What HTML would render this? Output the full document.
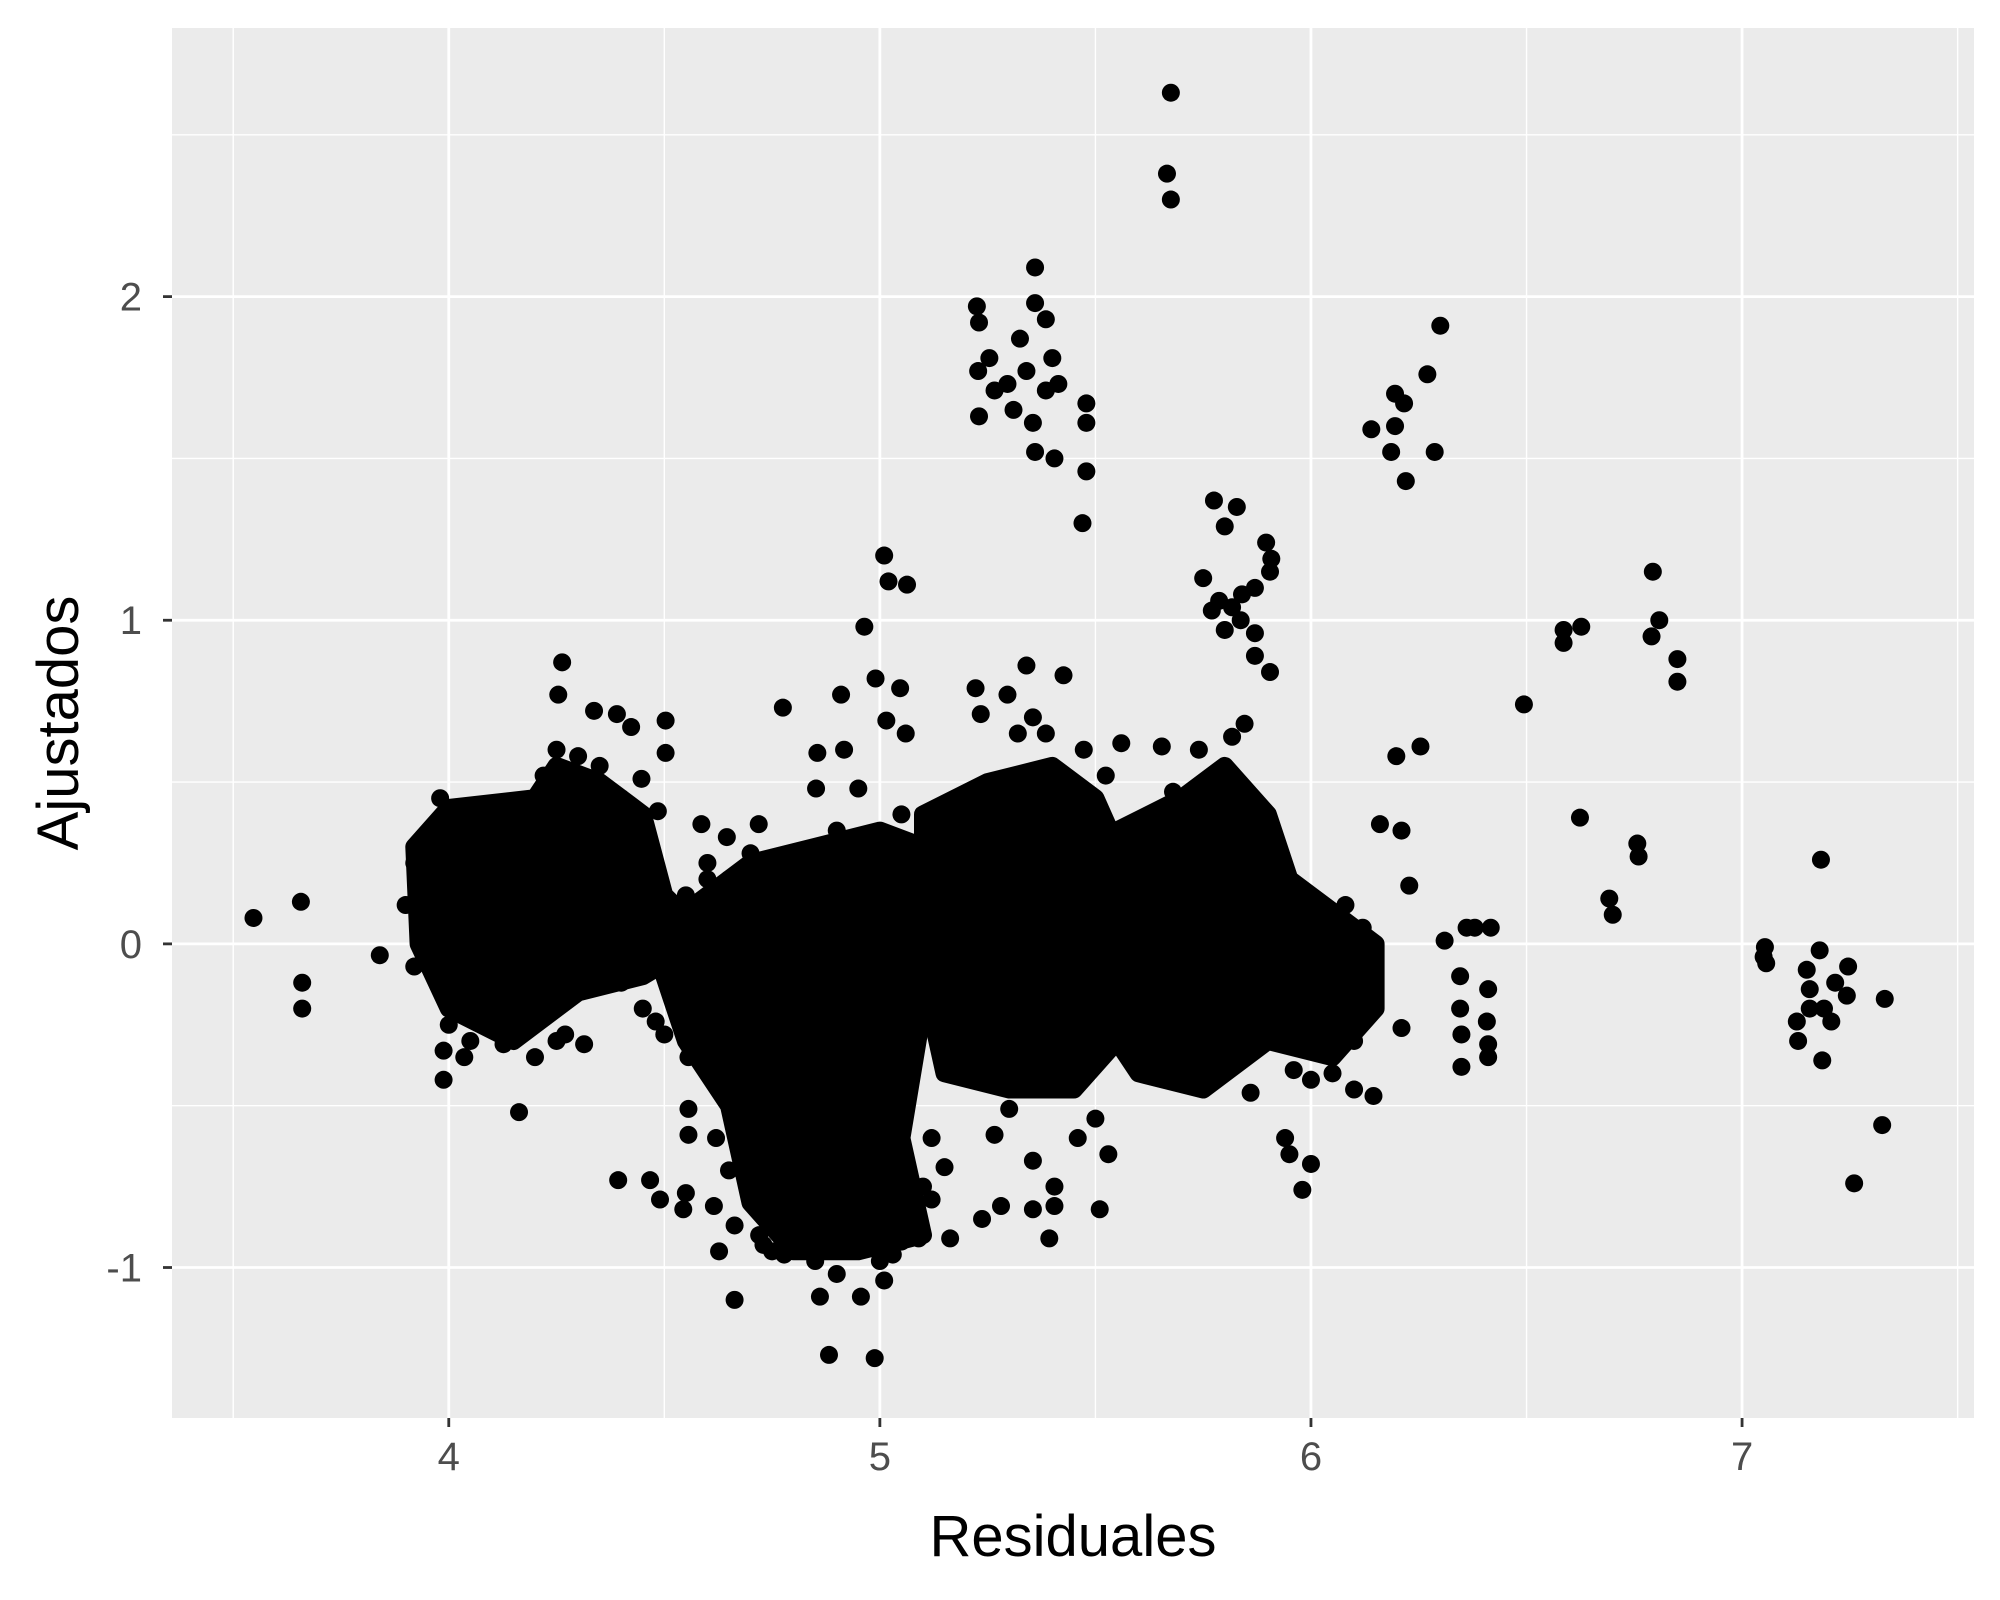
<!DOCTYPE html>
<html><head><meta charset="utf-8">
<style>
html,body{margin:0;padding:0;background:#fff;}
svg{display:block;font-family:"Liberation Sans",Arial,sans-serif;}
</style></head>
<body>
<svg id="chart" width="2000" height="1600" viewBox="0 0 2000 1600">
<rect x="0" y="0" width="2000" height="1600" fill="#fff"/>
<g id="panel"></g>
<g id="points"></g>
<g id="axes"></g>
<text x="1073" y="1556" text-anchor="middle" font-size="58" fill="#000">Residuales</text>
<text transform="translate(78,723) rotate(-90)" text-anchor="middle" font-size="58" fill="#000">Ajustados</text>
</svg>
<script>
const xTicks = [4, 5, 6, 7];
const xTickLabels = ["4", "5", "6", "7"];
const xMinor = [3.5, 4.5, 5.5, 6.5, 7.5];
const yTicks = [2, 1, 0, -1];
const yTickLabels = ["2", "1", "0", "-1"];
const yMinor = [2.5, 1.5, 0.5, -0.5];
const xDomain = [3.358, 7.538];
const yDomain = [-1.465, 2.83];

const coreA = [[3.92,0.3],[4.0,0.42],[4.2,0.45],[4.25,0.55],[4.35,0.5],[4.45,0.4],[4.5,0.15],[4.6,0.02],[4.45,-0.1],[4.3,-0.15],[4.15,-0.3],[4.0,-0.2],[3.93,0.0]];
const coreB = [[4.55,0.1],[4.7,0.25],[4.85,0.3],[5.0,0.35],[5.1,0.3],[5.1,-0.2],[5.05,-0.6],[5.1,-0.9],[4.95,-0.95],[4.8,-0.95],[4.7,-0.8],[4.65,-0.5],[4.55,-0.3],[4.5,-0.1]];
const coreC = [[5.1,0.4],[5.25,0.5],[5.4,0.55],[5.5,0.45],[5.55,0.3],[5.6,0.0],[5.55,-0.3],[5.45,-0.45],[5.3,-0.45],[5.15,-0.4],[5.1,-0.1]];
const coreD = [[5.55,0.35],[5.7,0.45],[5.8,0.55],[5.9,0.4],[5.95,0.2],[6.05,0.1],[6.15,0.0],[6.15,-0.2],[6.05,-0.35],[5.9,-0.3],[5.75,-0.45],[5.6,-0.4],[5.5,-0.2],[5.5,0.1]];

const residuales = [3.547,3.657,3.66,3.66,3.84,5.675,5.666,5.675,
5.225,5.23,5.36,5.36,5.385,5.254,5.228,5.23,5.325,5.296,5.355,5.36,5.414,5.479,5.479,5.405,5.479,5.47,5.34,5.385,5.31,5.266,5.4,
6.3,6.27,6.195,6.216,6.14,6.195,6.186,6.287,6.22,
5.775,5.828,5.8,5.896,5.908,5.905,5.87,5.75,5.787,5.817,5.837,5.8,5.87,5.87,5.905,5.84,5.77,
6.494,6.586,6.586,6.627,6.624,6.793,6.808,6.79,6.85,6.85,6.757,6.76,6.692,6.70,7.183,
7.053,7.056,7.05,7.18,7.15,7.157,7.127,7.13,7.19,7.216,7.246,7.243,7.207,7.186,7.331,7.325,7.26,7.157,
6.16,6.198,6.254,6.21,6.228,6.31,6.361,6.417,6.38,6.346,6.411,6.346,6.408,6.349,6.411,6.349,6.411,6.21,6.148,6.145,6.1,
5.94,5.95,6.0,5.98,5.96,5.86,
5.654,5.74,5.817,5.846,5.68,5.56,
5.34,5.426,5.222,5.296,5.355,5.234,5.385,5.473,5.524,5.32,
5.163,5.237,5.281,5.355,5.393,5.405,5.51,5.53,5.459,5.50,5.405,5.266,5.355,5.3,
5.01,5.02,5.063,4.964,4.99,5.047,4.91,4.775,4.855,4.917,5.015,5.06,4.852,4.95,4.719,4.586,4.645,4.423,4.503,4.503,4.447,4.485,4.39,4.337,4.263,4.254,3.98,
3.988,3.988,4.036,4.163,4.314,4.27,4.127,4.2,
4.393,4.467,4.49,4.544,4.55,4.556,4.556,4.615,4.627,4.663,4.663,4.73,4.778,4.861,4.882,4.988,4.956,4.9,5.01,5.03,5.09,5.09,5.12,5.15,4.556,4.48,4.5,
4.0,4.05,4.1,4.15,3.95,3.92,3.9,3.92,4.0,4.05,4.1,4.2,4.25,4.3,4.4,4.45,4.25,4.3,4.35,4.4,4.22,
4.5,4.55,4.6,4.65,4.52,
4.62,4.65,4.7,4.72,4.75,4.85,5.0,5.05,5.1,5.12,4.6,4.7,4.8,4.9,5.05,5.15,
6.05,6.1,6.12,6.0,6.08];
const ajustados = [0.08,0.13,-0.12,-0.2,-0.035,2.63,2.38,2.30,
1.97,1.92,2.09,1.98,1.93,1.81,1.77,1.63,1.87,1.73,1.61,1.52,1.73,1.67,1.61,1.50,1.46,1.30,1.77,1.71,1.65,1.71,1.81,
1.91,1.76,1.70,1.67,1.59,1.60,1.52,1.52,1.43,
1.37,1.35,1.29,1.24,1.19,1.15,1.10,1.13,1.06,1.04,1.0,0.97,0.96,0.89,0.84,1.08,1.03,
0.74,0.97,0.93,0.98,0.39,1.15,1.00,0.95,0.88,0.81,0.31,0.27,0.14,0.09,0.26,
-0.01,-0.06,-0.04,-0.02,-0.08,-0.14,-0.24,-0.3,-0.2,-0.12,-0.07,-0.16,-0.24,-0.36,-0.17,-0.56,-0.74,-0.2,
0.37,0.58,0.61,0.35,0.18,0.01,0.05,0.05,0.05,-0.1,-0.14,-0.2,-0.24,-0.28,-0.31,-0.38,-0.35,-0.26,-0.08,-0.47,-0.45,
-0.6,-0.65,-0.68,-0.76,-0.39,-0.46,
0.61,0.60,0.64,0.68,0.47,0.62,
0.86,0.83,0.79,0.77,0.70,0.71,0.65,0.60,0.52,0.65,
-0.91,-0.85,-0.81,-0.82,-0.91,-0.81,-0.82,-0.65,-0.6,-0.54,-0.75,-0.59,-0.67,-0.51,
1.20,1.12,1.11,0.98,0.82,0.79,0.77,0.73,0.59,0.60,0.69,0.65,0.48,0.48,0.37,0.37,0.33,0.67,0.69,0.59,0.51,0.41,0.71,0.72,0.87,0.77,0.45,
-0.33,-0.42,-0.35,-0.52,-0.31,-0.28,-0.31,-0.35,
-0.73,-0.73,-0.79,-0.82,-0.77,-0.59,-0.51,-0.81,-0.95,-0.87,-1.10,-0.93,-0.96,-1.09,-1.27,-1.28,-1.09,-1.02,-1.04,-0.96,-0.91,-0.85,-0.79,-0.69,-0.35,-0.24,-0.28,
0.38,0.4,0.35,0.4,0.32,0.25,0.12,-0.07,-0.25,-0.3,-0.25,-0.2,-0.3,-0.1,-0.12,-0.2,0.6,0.58,0.55,0.45,0.52,
0.05,0.15,0.2,0.2,-0.05,
-0.6,-0.7,-0.75,-0.9,-0.95,-0.98,-0.98,-0.92,-0.75,-0.6,0.25,0.28,0.25,0.35,0.4,0.42,
-0.4,-0.3,0.05,-0.42,0.12];

const PX0=172, PX1=1974, PY0=28, PY1=1418;
function sx(v){return PX0+(v-xDomain[0])/(xDomain[1]-xDomain[0])*(PX1-PX0);}
function sy(v){return PY1-(v-yDomain[0])/(yDomain[1]-yDomain[0])*(PY1-PY0);}
const NS="http://www.w3.org/2000/svg";
function mk(tag,attrs,parent){const e=document.createElementNS(NS,tag);for(const k in attrs)e.setAttribute(k,attrs[k]);parent.appendChild(e);return e;}

const panel=document.getElementById('panel');
const bg=mk('rect',{x:PX0,y:PY0,width:PX1-PX0,height:PY1-PY0,fill:'#EBEBEB'},panel);


xMinor.forEach(v=>{const l=mk('line',{x1:sx(v),x2:sx(v),y1:PY0,y2:PY1,stroke:'#fff','stroke-width':1.4},panel);

});
yMinor.forEach(v=>{const l=mk('line',{x1:PX0,x2:PX1,y1:sy(v),y2:sy(v),stroke:'#fff','stroke-width':1.4},panel);

});
xTicks.forEach(v=>{const l=mk('line',{x1:sx(v),x2:sx(v),y1:PY0,y2:PY1,stroke:'#fff','stroke-width':2.8},panel);

});
yTicks.forEach(v=>{const l=mk('line',{x1:PX0,x2:PX1,y1:sy(v),y2:sy(v),stroke:'#fff','stroke-width':2.8},panel);

});

const pts=document.getElementById('points');
[coreA,coreB,coreC,coreD].forEach(c=>{
  const d=c.map(p=>sx(p[0]).toFixed(1)+','+sy(p[1]).toFixed(1)).join(' ');
  const pg=mk('polygon',{points:d,fill:'#000',stroke:'#000','stroke-width':18,'stroke-linejoin':'round'},pts);
  
  
});
residuales.forEach((x,i)=>{
  const c=mk('circle',{cx:sx(x),cy:sy(ajustados[i]),r:9,fill:'#000'},pts);
  
  
});

const ax=document.getElementById('axes');
xTicks.forEach((v,i)=>{
  const t=mk('line',{x1:sx(v),x2:sx(v),y1:PY1,y2:PY1+9,stroke:'#333','stroke-width':2.8},ax);
  
  
  const tx=mk('text',{x:sx(v),y:PY1+52,'text-anchor':'middle','font-size':40,fill:'#4D4D4D'},ax);
  tx.textContent=xTickLabels[i];
  
  
});
yTicks.forEach((v,i)=>{
  const t=mk('line',{x1:PX0-9,x2:PX0,y1:sy(v),y2:sy(v),stroke:'#333','stroke-width':2.8},ax);
  
  
  const tx=mk('text',{x:PX0-30,y:sy(v)+14,'text-anchor':'end','font-size':40,fill:'#4D4D4D'},ax);
  tx.textContent=yTickLabels[i];
  
  
});
</script>
</body></html>
